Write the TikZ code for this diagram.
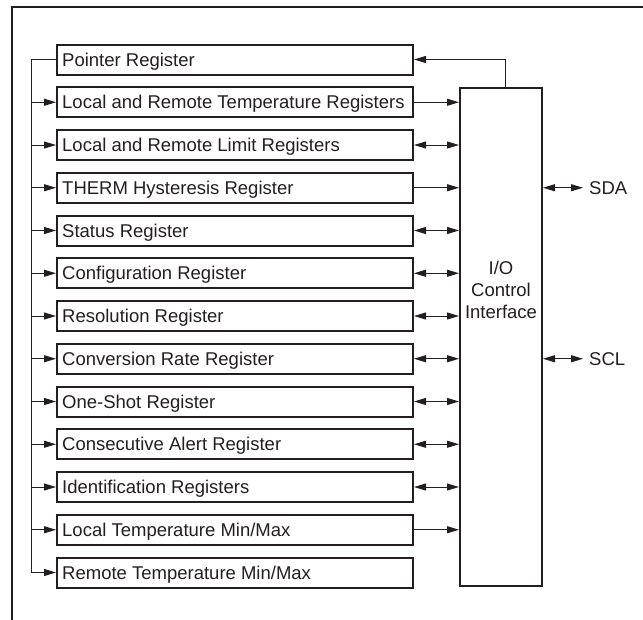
\documentclass[tikz,border=0pt]{standalone}
\usepackage{fontspec}
\setmainfont{Liberation Sans}
\usetikzlibrary{arrows.meta}
\definecolor{ink}{RGB}{35,31,32}
\begin{document}
\begin{tikzpicture}[x=1pt,y=-1pt,
  regbox/.style={draw=ink,line width=2pt,rectangle,inner sep=0pt,minimum width=356pt,minimum height=30pt},
  lbl/.style={inner sep=0pt,font=\fontsize{18.5}{22}\selectfont,text=ink},
  conn/.style={draw=ink,line width=1pt},
  tip/.style={-{Triangle[length=12pt,width=7pt]}},
  dtip/.style={{Triangle[length=12pt,width=7pt]}-{Triangle[length=12pt,width=7pt]}}
]
\useasboundingbox (0,0) rectangle (643,619);
% outer frame (open to right and bottom)
\draw[ink,line width=2.5pt] (12,625) -- (12,7) -- (650,7);

% register boxes
\foreach \t [count=\i from 0] in {Pointer Register,Local and Remote Temperature Registers,Local and Remote Limit Registers,THERM Hysteresis Register,Status Register,Configuration Register,Resolution Register,Conversion Rate Register,One-Shot Register,Consecutive Alert Register,Identification Registers,Local Temperature Min/Max,Remote Temperature Min/Max}{
  \node[regbox] (r\i) at (235,59.5+42.75*\i) {};
  \node[lbl,anchor=base west] (t\i) at ([xshift=6pt,yshift=-6.6pt]r\i.west) {\t};
}

% I/O control interface
\node[draw=ink,line width=2pt,rectangle,inner sep=0pt,minimum width=82pt,minimum height=498pt] (io) at (501,337) {};
\node[lbl,align=center] (iot) at (501,290) {I/O\\Control\\Interface};

% bus on the left
\coordinate (bus) at (31,59.5);
\draw[conn] (r0.west) -- (bus) -- (bus |- r12.west);
\foreach \i in {1,...,12}{
  \draw[conn,tip] (bus |- r\i.west) -- (r\i.west);
}

% pointer register feed from I/O
\coordinate (ptap) at ([xshift=4pt]io.north);
\draw[conn,tip] (ptap) |- (r0.east);

% one-way connections
\foreach \i in {1,3,11}{
  \draw[conn,tip] (r\i.east) -- (io.west |- r\i.east);
}
% two-way connections
\foreach \i in {2,4,5,6,7,8,9,10}{
  \draw[conn,dtip] (r\i.east) -- (io.west |- r\i.east);
}

% SDA / SCL
\node[lbl,anchor=west] (sda) at (589,59.5+42.75*3) {SDA};
\node[lbl,anchor=west] (scl) at (589,59.5+42.75*7) {SCL};
\draw[conn,dtip] (io.east |- sda.west) -- ([xshift=-6pt]sda.west);
\draw[conn,dtip] (io.east |- scl.west) -- ([xshift=-6pt]scl.west);
\end{tikzpicture}
\end{document}
